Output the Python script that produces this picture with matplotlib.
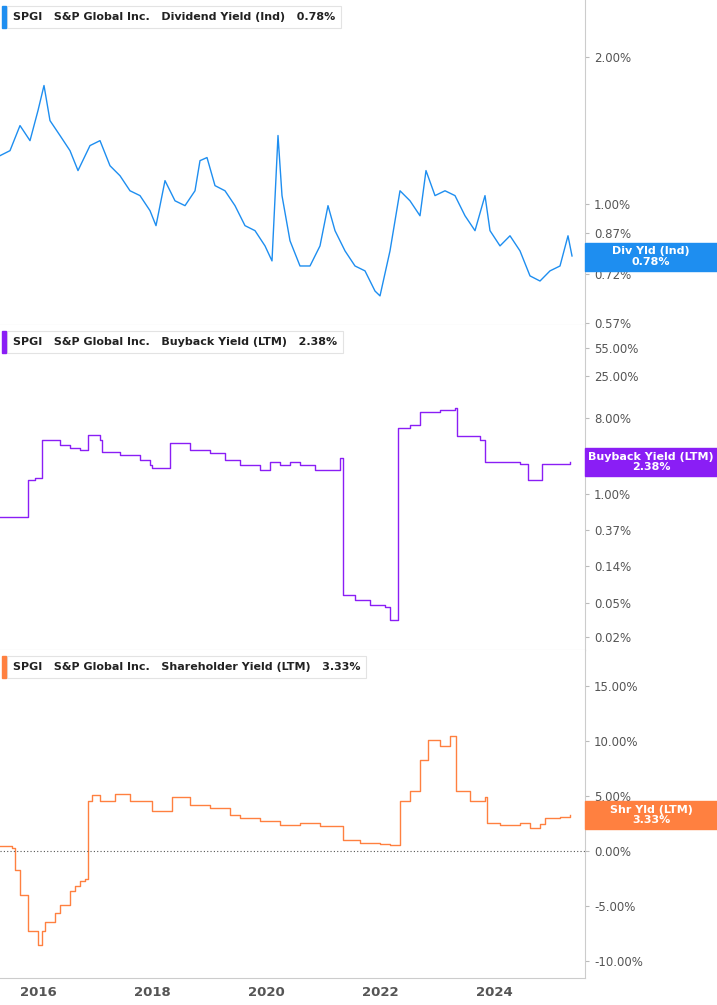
import matplotlib
matplotlib.use("Agg")
import matplotlib.pyplot as plt
import matplotlib.ticker as mt
from matplotlib.transforms import blended_transform_factory

# x pixel positions converted to decimal years
div_t = [0,10,20,30,38,44,50,60,70,78,90,100,110,120,130,140,150,156,165,175,185,195,200,207,215,225,235,245,255,265,272,278,282,290,300,310,320,328,335,345,355,365,375,380,390,400,410,420,426,435,445,455,465,475,485,490,500,510,520,530,540,550,560,568,572]
div_v = [1.254,1.284,1.445,1.346,1.551,1.745,1.479,1.379,1.284,1.169,1.315,1.346,1.196,1.141,1.063,1.039,0.968,0.902,1.115,1.014,0.991,1.063,1.225,1.243,1.089,1.063,0.991,0.902,0.881,0.820,0.764,1.379,1.039,0.840,0.746,0.746,0.820,0.991,0.881,0.801,0.746,0.729,0.663,0.648,0.801,1.063,1.014,0.945,1.169,1.039,1.063,1.039,0.945,0.881,1.039,0.881,0.820,0.860,0.801,0.712,0.695,0.729,0.746,0.860,0.782]

bb_t = [0,25,28,35,42,60,70,80,88,100,102,120,140,150,152,170,190,210,225,240,260,270,280,290,300,315,340,343,355,370,385,390,398,410,420,440,455,457,480,485,500,520,528,540,542,560,570]
bb_v = [0.532,0.532,1.468,1.55,4.39,3.83,3.53,3.34,5.03,4.39,3.16,2.91,2.54,2.21,2.04,4.05,3.34,3.07,2.54,2.21,1.93,2.40,2.21,2.40,2.21,1.93,2.68,0.063,0.055,0.048,0.045,0.032,6.10,6.63,9.48,10.0,10.6,4.90,4.39,2.40,2.40,2.28,1.47,1.47,2.28,2.28,2.40]

sh_t = [0,12,15,20,28,38,42,45,55,60,70,75,80,85,88,92,100,115,130,152,172,190,210,230,240,260,280,300,320,340,343,360,380,390,400,410,420,428,440,450,456,470,485,487,500,520,530,540,545,560,570]
sh_v = [0.5,0.3,-1.7,-4.0,-7.2,-8.5,-7.2,-6.4,-5.6,-4.9,-3.6,-3.1,-2.7,-2.5,4.6,5.1,4.6,5.2,4.6,3.7,4.9,4.2,3.9,3.3,3.0,2.8,2.4,2.6,2.3,2.3,1.0,0.8,0.7,0.6,4.6,5.5,8.3,10.1,9.6,10.5,5.5,4.6,4.9,2.6,2.4,2.6,2.1,2.5,3.0,3.1,3.3]

def yrs(px): return [2015.333 + p/57.0 for p in px]

BLUE, PURPLE, ORANGE = "#1e8ef0", "#8a1ef5", "#ff8040"
W, H = 717, 1005
fig = plt.figure(figsize=(W/100, H/100), dpi=100)
xl = (2015.333, 2015.333 + 585/57.0)

def mkax(top, bot):
    ax = fig.add_axes([0, 1-bot/H, 585/W, (bot-top)/H])
    ax.set_xlim(*xl)
    for s in ["left", "top"]:
        ax.spines[s].set_visible(False)
    for s in ["right", "bottom"]:
        ax.spines[s].set_color("#cccccc")
    ax.yaxis.tick_right()
    ax.tick_params(axis="y", colors="#555555", labelsize=8.5, length=3, color="#bbbbbb")
    ax.tick_params(axis="x", length=0)
    ax.set_xticks([2016, 2018, 2020, 2022, 2024])
    ax.set_xticklabels([])
    return ax

def title(ax, color, text, val, hpx):
    ax.text(0.022, 1 - 17/hpx, f"SPGI   S&P Global Inc.   {text}   {val}", transform=ax.transAxes, fontsize=8,
            fontweight="bold", color="#222222", va="center", ha="left",
            bbox=dict(boxstyle="square,pad=0.55", fc="white", ec="#e3e3e3", lw=0.8))
    ax.add_patch(plt.Rectangle((0.004, 1-28/hpx), 0.006, 22/hpx, transform=ax.transAxes, color=color, clip_on=False, zorder=5))

def tag(ax, y, color, l1, l2):
    tr = blended_transform_factory(fig.transFigure, ax.transData)
    xd, yd = ax.transData.transform((xl[0], y))
    y0 = ax.transData.inverted().transform((xd, yd - 14))[1]
    y1 = ax.transData.inverted().transform((xd, yd + 14))[1]
    ax.add_patch(plt.Rectangle((585/W, y0), 132/W, y1 - y0, transform=tr, color=color, clip_on=False, zorder=6))
    ax.text(651/W, y, f"{l1}\n{l2}", transform=tr, ha="center", va="center", fontsize=8, fontweight="bold",
            color="white", linespacing=1.05, zorder=7)

pct = mt.FuncFormatter(lambda v, p: f"{v:.2f}%")

ax1 = mkax(0, 325)
ax1.plot(yrs(div_t), div_v, color=BLUE, lw=1)
ax1.set_yscale("log")
ax1.set_ylim(0.565, 2.61)
ax1.yaxis.set_major_locator(mt.FixedLocator([0.57, 0.72, 0.87, 1.0, 2.0]))
ax1.yaxis.set_minor_locator(mt.NullLocator())
ax1.yaxis.set_major_formatter(pct)
title(ax1, BLUE, "Dividend Yield (Ind)", "0.78%", 325)
tag(ax1, 0.78, BLUE, "Div Yld (Ind)", "0.78%")

ax2 = mkax(325, 650)
ax2.plot(yrs(bb_t), bb_v, color=PURPLE, lw=1, drawstyle="steps-post")
ax2.set_yscale("log")
ax2.set_ylim(0.0139, 102)
ax2.yaxis.set_major_locator(mt.FixedLocator([0.02, 0.05, 0.14, 0.37, 1.0, 8.0, 25.0, 55.0]))
ax2.yaxis.set_minor_locator(mt.NullLocator())
ax2.yaxis.set_major_formatter(pct)
title(ax2, PURPLE, "Buyback Yield (LTM)", "2.38%", 325)
tag(ax2, 2.38, PURPLE, "Buyback Yield (LTM)", "2.38%")

ax3 = mkax(650, 978)
ax3.plot(yrs(sh_t), sh_v, color=ORANGE, lw=1, drawstyle="steps-post")
ax3.set_ylim(-11.5, 18.3)
ax3.set_yticks([-10, -5, 0, 5, 10, 15])
ax3.yaxis.set_major_formatter(pct)
ax3.axhline(0, color="#555555", lw=0.8, ls=(0, (1, 2)))
title(ax3, ORANGE, "Shareholder Yield (LTM)", "3.33%", 328)
tag(ax3, 3.33, ORANGE, "Shr Yld (LTM)", "3.33%")
ax3.set_xticklabels(["2016", "2018", "2020", "2022", "2024"])
ax3.tick_params(axis="x", labelsize=9.5, colors="#555555", pad=6)
for lb in ax3.get_xticklabels():
    lb.set_fontweight("bold")

fig.savefig("out.png", dpi=100)
